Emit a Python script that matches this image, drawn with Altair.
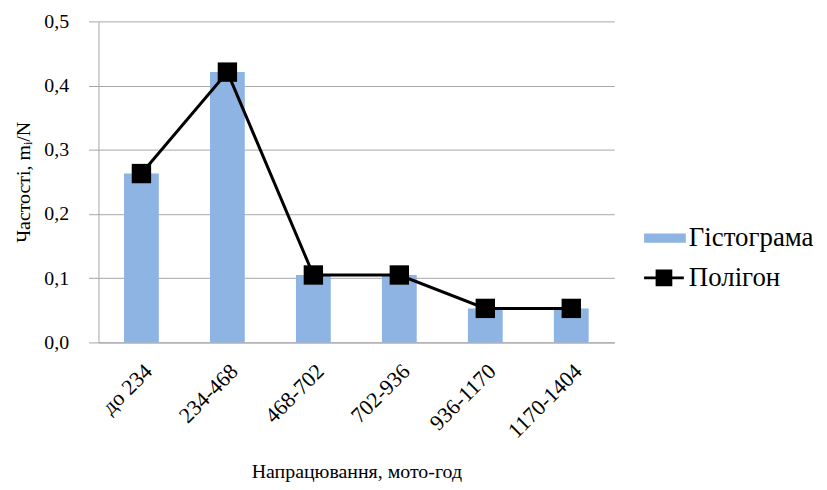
import altair as alt
import pandas as pd

categories = ["до 234", "234-468", "468-702", "702-936", "936-1170", "1170-1404"]
frequencies = [0.263, 0.421, 0.105, 0.105, 0.053, 0.053]
series_bar = "Гістограма"
series_line = "Полігон"

df = pd.DataFrame({
    "category": categories,
    "value": frequencies,
    "bar_series": [series_bar] * len(categories),
    "line_series": [series_line] * len(categories),
})

FONT = "Liberation Serif"

x_enc = alt.X(
    "category:N",
    sort=categories,
    scale=alt.Scale(paddingInner=0.6, paddingOuter=0.3),
    axis=alt.Axis(
        title="Напрацювання, мото-год",
        labelAngle=-45,
        ticks=False,
        labelPadding=18,
        titlePadding=20,
        domainColor="#A6A6A6",
        labelFontSize=22,
        titleFontSize=20,
    ),
)
y_enc = alt.Y(
    "value:Q",
    scale=alt.Scale(domain=[0, 0.5], nice=False),
    axis=alt.Axis(
        title="Частості, mᵢ/N",
        values=[0, 0.1, 0.2, 0.3, 0.4, 0.5],
        labelExpr="replace(format(datum.value, '.1f'), '.', ',')",
        tickSize=10,
        tickColor="#A6A6A6",
        domainColor="#A6A6A6",
        gridColor="#A6A6A6",
        labelPadding=20,
        titlePadding=10,
        labelFontSize=20,
        titleFontSize=20,
    ),
)

base = alt.Chart(df)

bars = base.mark_bar(size=35).encode(
    x=x_enc,
    y=y_enc,
    color=alt.Color(
        "bar_series:N",
        scale=alt.Scale(range=["#8EB4E3"]),
        legend=alt.Legend(
            title=None, orient="none", legendX=549, legendY=197,
            symbolType="M-1,-0.22H1V0.22H-1Z", symbolSize=1764,
            symbolStrokeWidth=0, labelOffset=3,
        ),
    ),
)

line = base.mark_line(color="black", strokeWidth=3).encode(x=x_enc, y=y_enc)

points = base.mark_point(shape="square", filled=True, size=380, opacity=1).encode(
    x=x_enc,
    y=y_enc,
    color=alt.Color(
        "line_series:N",
        scale=alt.Scale(range=["black"]),
        legend=alt.Legend(
            title=None, orient="none", legendX=549, legendY=238,
            symbolType="M-1,-0.07H1V0.07H-1Z M-0.42,-0.42H0.42V0.42H-0.42Z",
            symbolSize=1600, symbolStrokeWidth=0, symbolOpacity=1,
            labelOffset=5,
        ),
    ),
)

chart = (
    alt.layer(bars, line, points)
    .resolve_scale(color="independent")
    .properties(
        width=519, height=323,
        padding={"left": 6, "top": 2, "right": 5, "bottom": 5},
    )
    .configure(font=FONT)
    .configure_view(stroke=None)
    .configure_axis(
        labelFont=FONT, titleFont=FONT, labelColor="black", titleColor="black",
        titleFontWeight="normal",
    )
    .configure_axisX(grid=False)
    .configure_legend(labelFont=FONT, labelFontSize=27, labelColor="black")
)

chart.save("out.html", embed_options={"renderer": "svg", "actions": False})
